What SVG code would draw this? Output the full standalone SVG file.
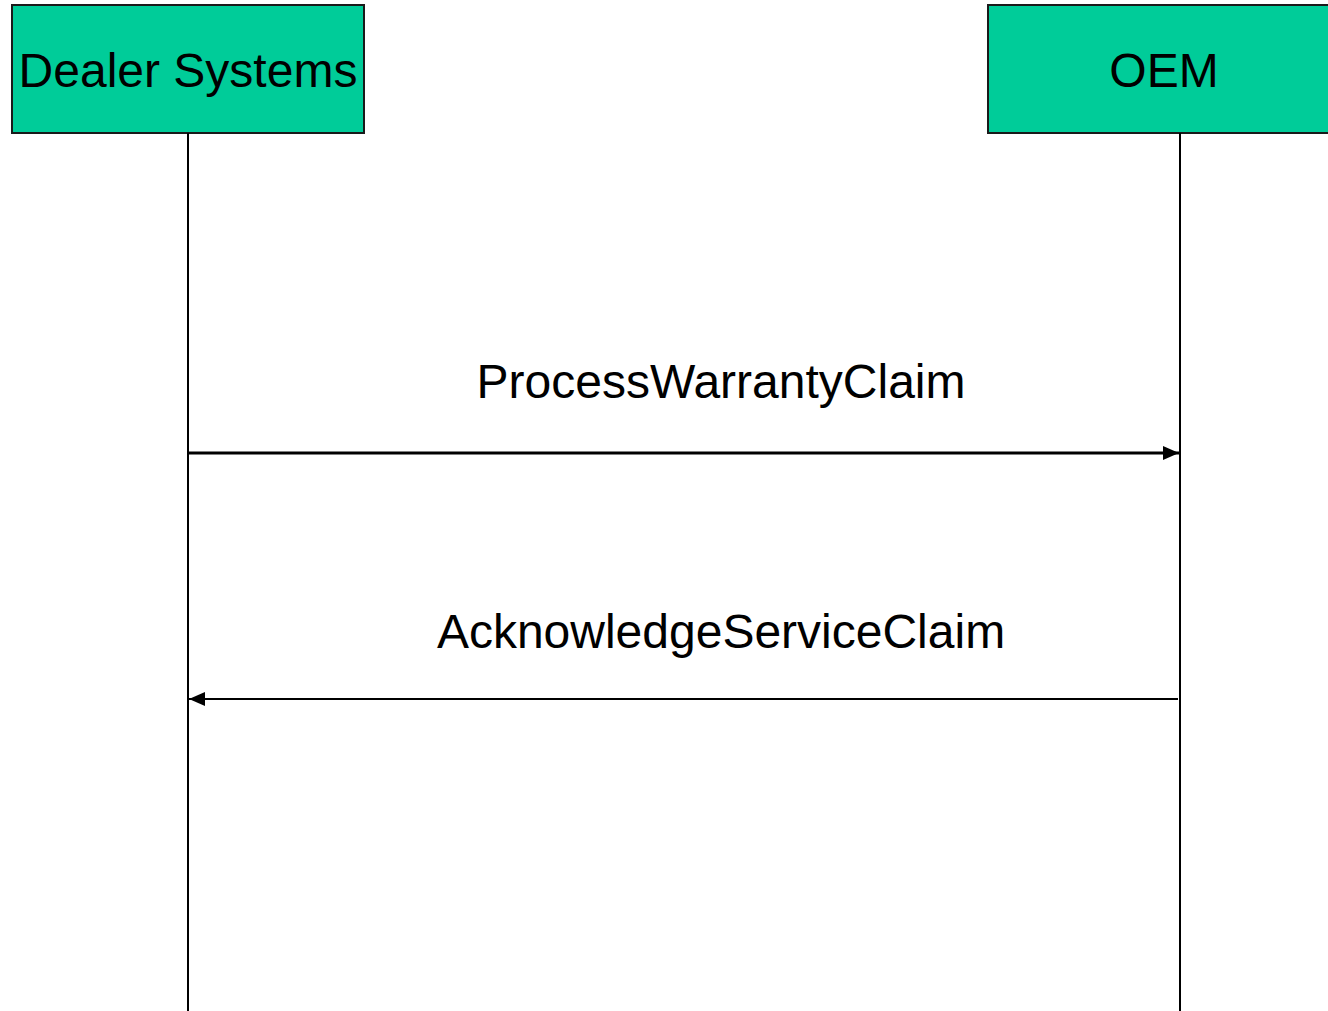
<svg xmlns="http://www.w3.org/2000/svg" width="1328" height="1011" viewBox="0 0 1328 1011">
<style>
.box{fill:#00CC99;stroke:#1a1a1a;stroke-width:2}
.lbl{font-family:"Liberation Sans",Arial,sans-serif;font-size:48px;fill:#000;text-anchor:middle}
.life{stroke:#000;stroke-width:2;fill:none}
.msg{stroke:#000;fill:none}
</style>
<defs>
<marker id="ah" markerWidth="17" markerHeight="14" refX="16" refY="7" orient="auto" markerUnits="userSpaceOnUse">
<path d="M0,0 L16,7 L0,14 Z" fill="#000"/>
</marker>
</defs>
<g id="dealer">
<rect class="box" x="12" y="5" width="352" height="128"/>
<text class="lbl" x="188" y="87">Dealer Systems</text>
</g>
<g id="oem">
<rect class="box" x="988" y="5" width="345" height="128"/>
<text class="lbl" x="1164" y="87">OEM</text>
</g>
<g id="connectors">
<line class="life" x1="188" y1="133" x2="188" y2="1011"/>
<line class="life" x1="1180" y1="133" x2="1180" y2="1011"/>
<line class="msg" x1="189" y1="453" x2="1179" y2="453" stroke-width="3" marker-end="url(#ah)"/>
<text class="lbl" x="721" y="398">ProcessWarrantyClaim</text>
<line class="msg" x1="1178" y1="699" x2="189" y2="699" stroke-width="2" marker-end="url(#ah)"/>
<text class="lbl" x="721" y="648">AcknowledgeServiceClaim</text>
</g>
</svg>
